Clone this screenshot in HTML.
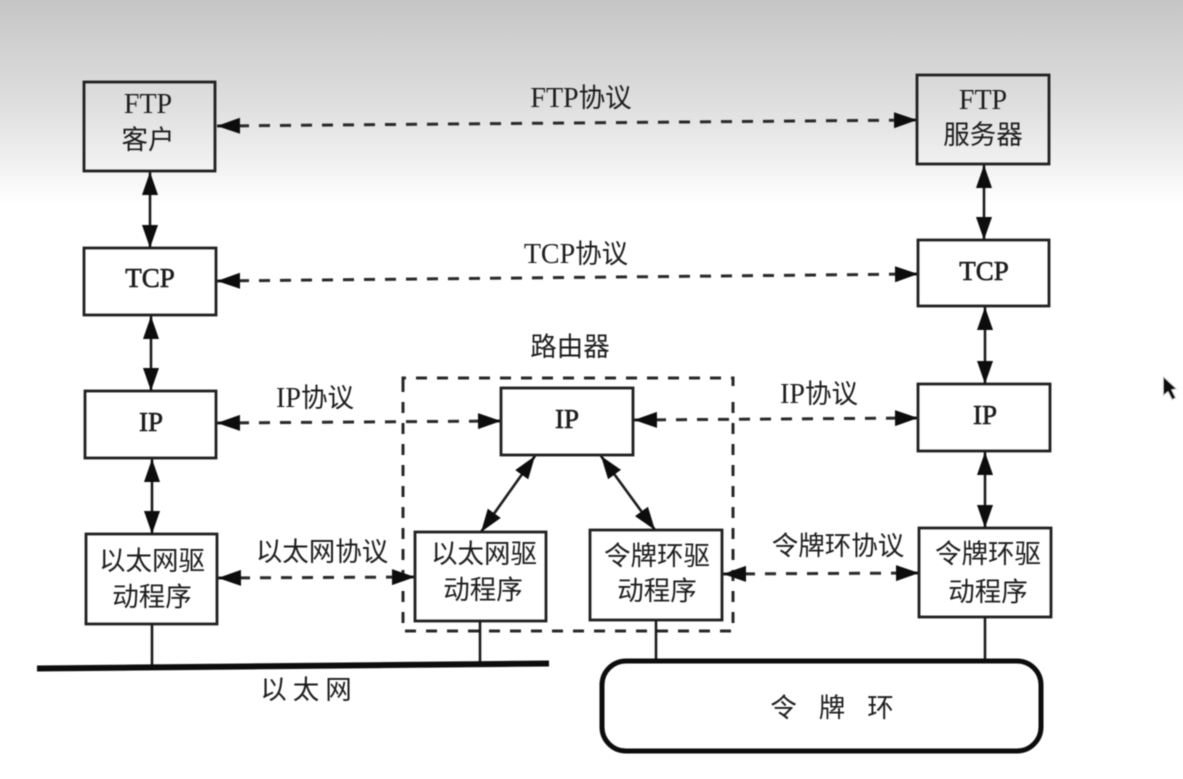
<!DOCTYPE html>
<html><head><meta charset="utf-8">
<style>
html,body{margin:0;padding:0;background:#fff;width:1183px;height:779px;overflow:hidden}
svg{display:block;position:absolute;left:0;top:0}
text{font-family:"Liberation Serif","Noto Sans CJK SC",serif;font-size:28px;fill:#1c1c1c;text-anchor:middle}
.c{font-family:"Noto Sans CJK SC","Liberation Sans",sans-serif;font-size:26.5px;font-weight:400}
.b{fill:none;stroke:#222;stroke-width:2.8}
.d{stroke:#2a2a2a;stroke-width:3;stroke-dasharray:11 10;fill:none}
.l{stroke:#1c1c1c;stroke-width:2.6;fill:none}
.h{font-size:27px;stroke:#1c1c1c;stroke-width:.6}
</style></head><body>
<svg width="1183" height="779" viewBox="0 0 1183 779" xmlns="http://www.w3.org/2000/svg">
<defs>
<linearGradient id="g" x1="0" y1="0" x2="0" y2="1">
<stop offset="0" stop-color="#c5c5c5"/>
<stop offset="0.15" stop-color="#cdcdcd"/>
<stop offset="0.5" stop-color="#dedede"/>
<stop offset="0.8" stop-color="#f1f1f1"/>
<stop offset="1" stop-color="#fff"/>
</linearGradient>
<marker id="a" markerUnits="userSpaceOnUse" markerWidth="24" markerHeight="18" refX="23" refY="8" orient="auto-start-reverse"><path d="M0 0L23 8L0 16Z" fill="#0c0c0c"/></marker>
<filter id="f" filterUnits="userSpaceOnUse" x="0" y="0" width="1183" height="779"><feGaussianBlur stdDeviation="0.6"/></filter>
</defs>
<rect width="1183" height="205" fill="url(#g)"/>
<g filter="url(#f)">
<!-- router dashed box -->
<path class="d" d="M403 386V378H733V386M733 402V631H403V386"/>
<!-- boxes -->
<rect class="b" x="84" y="82" width="131" height="89"/>
<rect class="b" x="84" y="248" width="132" height="67"/>
<rect class="b" x="85" y="391" width="131" height="67"/>
<rect class="b" x="86" y="534" width="131" height="90"/>
<rect class="b" x="917" y="75" width="132" height="89"/>
<rect class="b" x="918" y="240" width="131" height="66"/>
<rect class="b" x="918" y="384" width="132" height="67"/>
<rect class="b" x="919" y="528" width="132" height="89"/>
<rect class="b" x="501" y="388" width="132" height="67"/>
<rect class="b" x="415" y="532" width="131" height="89"/>
<rect class="b" x="590" y="530" width="132" height="90"/>
<!-- stems -->
<path class="l" d="M152 624V667M480 621V665M656 620V660M985 617V660"/>
<!-- ethernet -->
<path d="M37 668.5L549 663.5" stroke="#111" stroke-width="6" fill="none"/>
<!-- ring -->
<rect x="602" y="661" width="439" height="90" rx="24" ry="24" fill="none" stroke="#111" stroke-width="5"/>
<!-- dashed arrows -->
<path class="d" d="M217 126L917 120" marker-start="url(#a)" marker-end="url(#a)"/>
<path class="d" d="M217 281L918 274" marker-start="url(#a)" marker-end="url(#a)"/>
<path class="d" d="M217 423L501 421" marker-start="url(#a)" marker-end="url(#a)"/>
<path class="d" d="M634 420L918 418" marker-start="url(#a)" marker-end="url(#a)"/>
<path class="d" d="M218 578L415 577" marker-start="url(#a)" marker-end="url(#a)"/>
<path class="d" d="M723 574L919 573" marker-start="url(#a)" marker-end="url(#a)"/>
<!-- solid arrows -->
<path class="l" d="M150 172V248" marker-start="url(#a)" marker-end="url(#a)"/>
<path class="l" d="M151 316V391" marker-start="url(#a)" marker-end="url(#a)"/>
<path class="l" d="M152 459V534" marker-start="url(#a)" marker-end="url(#a)"/>
<path class="l" d="M984 165V240" marker-start="url(#a)" marker-end="url(#a)"/>
<path class="l" d="M985 307V384" marker-start="url(#a)" marker-end="url(#a)"/>
<path class="l" d="M985 452V528" marker-start="url(#a)" marker-end="url(#a)"/>
<path class="l" d="M535 456L481 532" marker-start="url(#a)" marker-end="url(#a)"/>
<path class="l" d="M601 456L655 530" marker-start="url(#a)" marker-end="url(#a)"/>
<!-- labels -->
<text x="148" y="113">FTP</text>
<text class="c" x="148" y="149">客户</text>
<text class="h" x="150" y="287">TCP</text>
<text class="h" x="151" y="431">IP</text>
<text class="c" x="152" y="570">以太网驱</text>
<text class="c" x="152" y="606">动程序</text>
<text x="983" y="109">FTP</text>
<text class="c" x="983" y="144">服务器</text>
<text class="h" x="984" y="280">TCP</text>
<text class="h" x="985" y="424">IP</text>
<text class="c" x="988" y="563">令牌环驱</text>
<text class="c" x="988" y="601">动程序</text>
<text class="h" x="567" y="428">IP</text>
<text class="c" x="484" y="563">以太网驱</text>
<text class="c" x="483" y="599">动程序</text>
<text class="c" x="657" y="565">令牌环驱</text>
<text class="c" x="657" y="600">动程序</text>
<text x="581" y="107"><tspan>FTP</tspan><tspan class="c">协议</tspan></text>
<text x="576" y="263"><tspan>TCP</tspan><tspan class="c">协议</tspan></text>
<text x="315" y="407"><tspan>IP</tspan><tspan class="c">协议</tspan></text>
<text x="819" y="403"><tspan>IP</tspan><tspan class="c">协议</tspan></text>
<text class="c" x="570" y="356">路由器</text>
<text class="c" x="322" y="561">以太网协议</text>
<text class="c" x="838" y="555">令牌环协议</text>
<text class="c" x="309" y="699" style="letter-spacing:6px">以太网</text>
<text class="c" x="843" y="717" style="letter-spacing:22px">令牌环</text>
</g>
<!-- cursor -->
<path d="M1163 376V396L1168 392L1172 400L1176 398L1172 390L1177 389Z" fill="#0c0c0c" stroke="#e8e8e8" stroke-width="1" filter="url(#f)"/>
</svg>
</body></html>
